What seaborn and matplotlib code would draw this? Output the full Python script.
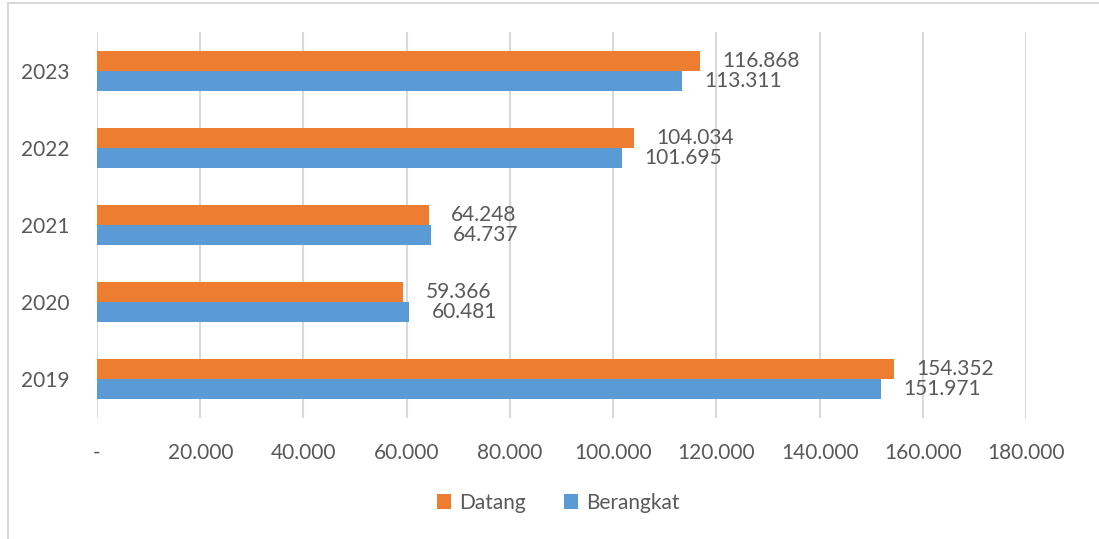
import pandas as pd
import matplotlib
matplotlib.use("Agg")
import matplotlib.pyplot as plt
from matplotlib.ticker import FuncFormatter
from matplotlib.lines import Line2D
import seaborn as sns

years = ['2023', '2022', '2021', '2020', '2019']
datang = [116868, 104034, 64248, 59366, 154352]
berangkat = [113311, 101695, 64737, 60481, 151971]
series = ['Datang', 'Berangkat']
xticks = [0, 20000, 40000, 60000, 80000, 100000, 120000, 140000, 160000, 180000]

df = pd.DataFrame({
    'tahun': years * 2,
    'jenis': ['Datang'] * len(years) + ['Berangkat'] * len(years),
    'jumlah': datang + berangkat,
})

sns.set_theme(style='white')
plt.rcParams['font.family'] = ['Lato', 'DejaVu Sans']
txt = '#595959'

fig = plt.figure(figsize=(10.99, 5.39), dpi=100)
ax = fig.add_axes([0.0883, 0.2245, 0.8453, 0.7161])

sns.barplot(data=df, y='tahun', x='jumlah', hue='jenis', order=years,
            hue_order=series, palette=['#ED7D31', '#5B9BD5'], orient='h',
            width=0.52, gap=0, saturation=1, linewidth=0, ax=ax, legend=True)

def fmt(v):
    return f'{int(v):,}'.replace(',', '.')

for cont in ax.containers:
    for bar in cont:
        w = bar.get_width()
        ax.annotate(fmt(w), (w, bar.get_y() + bar.get_height() / 2),
                    xytext=(16, 0), textcoords='offset points',
                    ha='left', va='center', fontsize=15, color=txt)

ax.set_xlim(0, 180000)
ax.set_xticks(xticks)
ax.xaxis.set_major_formatter(FuncFormatter(lambda v, p: '-' if v == 0 else fmt(v)))
ax.grid(axis='x', color='#D9D9D9', linewidth=1.5)
ax.set_axisbelow(True)
for s in ax.spines.values():
    s.set_visible(False)
ax.tick_params(axis='x', length=0, pad=18, labelsize=15, labelcolor=txt)
ax.tick_params(axis='y', length=0, pad=20, labelsize=15, labelcolor=txt)
ax.set_xlabel('')
ax.set_ylabel('')

handles, labels = ax.get_legend_handles_labels()
ax.legend_.remove()
fig.legend(handles, labels, loc='center', bbox_to_anchor=(0.508, 0.067),
           ncol=2, frameon=False, fontsize=15, labelcolor=txt,
           handlelength=0.7, handleheight=0.7, handletextpad=0.4,
           columnspacing=1.8)

# thin frame like the excel chart area
fig.add_artist(Line2D([0.0073, 1.0], [0.9944, 0.9944], color='#D9D9D9', lw=1.5))
fig.add_artist(Line2D([0.0073, 0.0073], [0.0, 0.9944], color='#D9D9D9', lw=1.5))

fig.savefig('out.png', dpi=100)
